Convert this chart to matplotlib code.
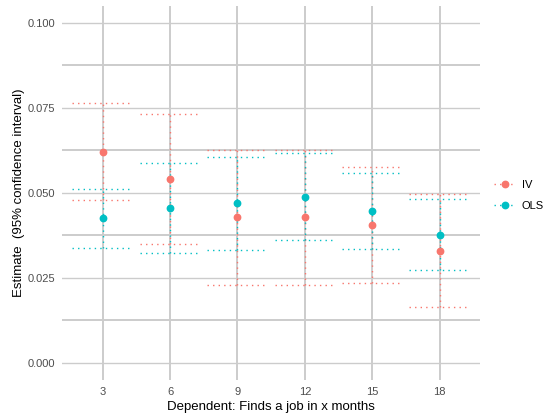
import numpy as np
import matplotlib.pyplot as plt
from matplotlib.lines import Line2D

plt.rcParams['font.family'] = ['Liberation Sans', 'DejaVu Sans']

# data
months = ['3', '6', '9', '12', '15', '18']
iv_est = [0.0621, 0.0540, 0.0428, 0.0428, 0.0405, 0.0330]
iv_lo = [0.0478, 0.0350, 0.0229, 0.0229, 0.0235, 0.0163]
iv_hi = [0.0764, 0.0731, 0.0627, 0.0625, 0.0575, 0.0497]
ols_est = [0.0426, 0.0455, 0.0470, 0.0489, 0.0447, 0.0377]
ols_lo = [0.0339, 0.0322, 0.0333, 0.0361, 0.0336, 0.0272]
ols_hi = [0.0512, 0.0589, 0.0605, 0.0616, 0.0558, 0.0482]

iv_col = '#F8766D'
ols_col = '#00BFC4'
dots = (0, (1, 3))

fig = plt.figure(figsize=(5.5, 4.16), dpi=100)
ax = fig.add_axes([0.113, 0.087, 0.76, 0.899])

x = np.arange(len(months))

# grid (theme_minimal look)
for v in np.arange(0, 0.1001, 0.025):
    ax.axhline(v, color='#cccccc', lw=1.0, zorder=0)
for v in np.arange(0.0125, 0.1, 0.025):
    ax.axhline(v, color='#cccccc', lw=1.4, zorder=0)
for xi in x:
    ax.axvline(xi, color='#cccccc', lw=1.4, zorder=0)

def draw(est, lo, hi, col):
    est = np.array(est); lo = np.array(lo); hi = np.array(hi)
    ax.vlines(x, lo, hi, colors=col, linestyles=dots, lw=1.0, zorder=2)
    ax.hlines(lo, x - 0.45, x + 0.45, colors=col, linestyles=dots, lw=1.0, zorder=2)
    ax.hlines(hi, x - 0.45, x + 0.45, colors=col, linestyles=dots, lw=1.0, zorder=2)
    ax.plot(x, est, 'o', color=col, ms=4.6, zorder=3)

draw(iv_est, iv_lo, iv_hi, iv_col)
draw(ols_est, ols_lo, ols_hi, ols_col)

ax.set_xlim(-0.6, 5.6)
ax.set_ylim(-0.005, 0.105)
ax.set_xticks(x)
ax.set_xticklabels(months)
ax.set_yticks([0, 0.025, 0.05, 0.075, 0.1])
ax.set_yticklabels(['0.000', '0.025', '0.050', '0.075', '0.100'])
ax.tick_params(length=0, labelsize=8, colors='#4d4d4d', pad=5)
for s in ax.spines.values():
    s.set_visible(False)

ax.set_xlabel('Dependent: Finds a job in x months', fontsize=9.5, labelpad=3)
ax.set_ylabel('Estimate  (95% confidence interval)', fontsize=9.5, labelpad=2)

handles = [Line2D([0], [0], color=iv_col, ls=dots, lw=1.0, marker='o', ms=4.6),
           Line2D([0], [0], color=ols_col, ls=dots, lw=1.0, marker='o', ms=4.6)]
fig.legend(handles, ['IV', 'OLS'], loc='center left', bbox_to_anchor=(0.88, 0.53),
           frameon=False, fontsize=8, handlelength=2.0, labelspacing=1.0,
           handletextpad=0.5)

fig.savefig('out.png', dpi=100)
